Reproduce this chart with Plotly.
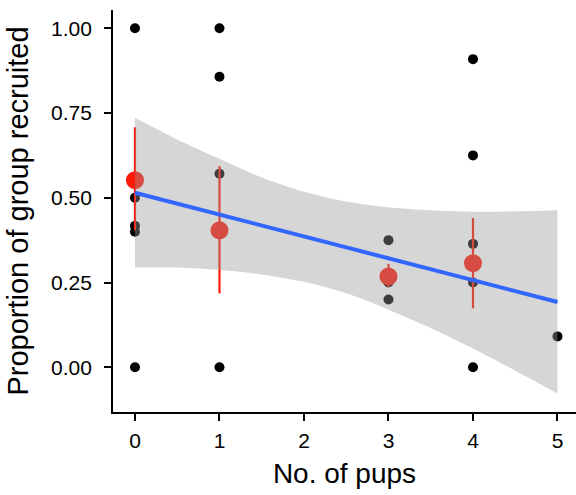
import plotly.graph_objects as go

# Raw observations (No. of pups, proportion of group recruited)
pts_x = [0, 0, 0, 0, 0, 1, 1, 1, 1, 3, 3, 3, 4, 4, 4, 4, 4, 5]
pts_y = [1.00, 0.50, 0.417, 0.40, 0.00,
         1.00, 0.857, 0.571, 0.00,
         0.375, 0.25, 0.20,
         0.909, 0.625, 0.364, 0.25, 0.00,
         0.091]

# Group means with error bars
mean_x = [0, 1, 3, 4]
mean_y = [0.552, 0.404, 0.268, 0.307]
mean_lo = [0.404, 0.218, 0.237, 0.174]
mean_hi = [0.708, 0.594, 0.305, 0.440]

# Linear fit and its confidence band
fit_x = [0, 5]
fit_y = [0.515, 0.1925]
band_x = [0, 0.5, 1, 1.5, 2, 2.5, 3, 3.5, 4, 4.5, 5]
band_hi = [0.736, 0.672, 0.615, 0.560, 0.518, 0.489, 0.472, 0.463, 0.459, 0.460, 0.463]
band_lo = [0.294, 0.294, 0.287, 0.274, 0.252, 0.218, 0.170, 0.116, 0.055, -0.010, -0.077]

x_ticks = [0, 1, 2, 3, 4, 5]
y_ticks = [0.00, 0.25, 0.50, 0.75, 1.00]
y_tick_labels = ["0.00", "0.25", "0.50", "0.75", "1.00"]

FONT = "Liberation Sans, Arial, Helvetica, sans-serif"

fig = go.Figure()

fig.add_trace(go.Scatter(
    x=pts_x, y=pts_y, mode="markers",
    marker=dict(size=10, color="black", line=dict(width=0)),
    hoverinfo="skip", showlegend=False))

fig.add_trace(go.Scatter(
    x=mean_x, y=mean_y, mode="markers",
    marker=dict(size=18, color="#FF1A0A", line=dict(width=0)),
    error_y=dict(type="data", symmetric=False,
                 array=[h - m for h, m in zip(mean_hi, mean_y)],
                 arrayminus=[m - l for m, l in zip(mean_y, mean_lo)],
                 color="#FF1A0A", thickness=2.2, width=0),
    showlegend=False))

fig.add_trace(go.Scatter(
    x=band_x, y=band_lo, mode="lines",
    line=dict(width=0, shape="spline", smoothing=0.8),
    hoverinfo="skip", showlegend=False))
fig.add_trace(go.Scatter(
    x=band_x, y=band_hi, mode="lines", fill="tonexty",
    fillcolor="rgba(153,153,153,0.4)",
    line=dict(width=0, shape="spline", smoothing=0.8),
    hoverinfo="skip", showlegend=False))

fig.add_trace(go.Scatter(
    x=fit_x, y=fit_y, mode="lines",
    line=dict(color="#3366FF", width=4), showlegend=False))

fig.update_layout(
    width=576, height=495,
    margin=dict(l=113, r=0, t=10, b=83),
    paper_bgcolor="white", plot_bgcolor="white",
    font=dict(family=FONT, color="black"),
    xaxis=dict(
        range=[-0.26, 5.219], tickvals=x_ticks,
        showgrid=False, zeroline=False, automargin=False,
        showline=True, linecolor="black", linewidth=1.8,
        ticks="outside", ticklen=7, tickwidth=1.8, tickcolor="black",
        tickfont=dict(size=21, family=FONT, color="black"),
        ticklabelstandoff=2,
        title=dict(text="No. of pups", font=dict(size=28, family=FONT, color="black"), standoff=12),
    ),
    yaxis=dict(
        range=[-0.132, 1.054], tickvals=y_ticks, ticktext=y_tick_labels,
        showgrid=False, zeroline=False, automargin=False,
        showline=True, linecolor="black", linewidth=1.8,
        ticks="outside", ticklen=7, tickwidth=1.8, tickcolor="black",
        tickfont=dict(size=21, family=FONT, color="black"),
        ticklabelstandoff=8,
        title=dict(text="Proportion of group recruited", font=dict(size=29, family=FONT, color="black"), standoff=14),
    ),
)

fig.write_html("out.html", config={"displayModeBar": False},
               post_script="document.body.style.margin='0';document.body.style.padding='0';")
